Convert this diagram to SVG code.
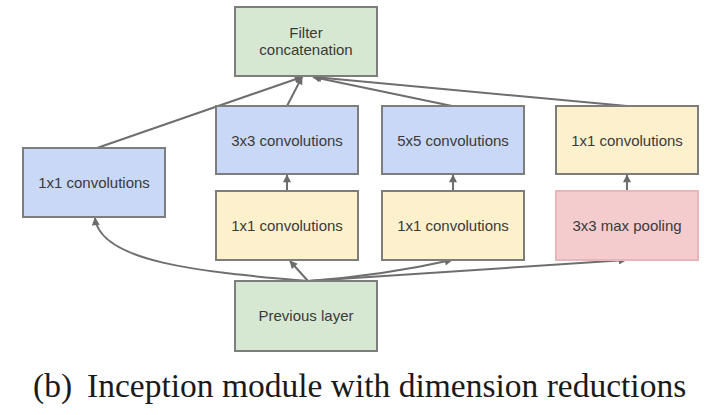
<svg xmlns="http://www.w3.org/2000/svg" width="720" height="415" viewBox="0 0 720 415">
<defs>
<marker id="arr" viewBox="0 0 10 10" refX="9" refY="5" markerWidth="9" markerHeight="8" markerUnits="userSpaceOnUse" orient="auto">
<path d="M0,0 L10,5 L0,10 Z" fill="#6b6b6b"/>
</marker>
<style>
.box{stroke:#7d7d7d;stroke-width:2}
.green{fill:#d7e8d2}
.blue{fill:#c9d8f6}
.yellow{fill:#fdf1cd}
.pink{fill:#f4ccce;stroke:#e8b5b9}
.lbl{font-family:"Liberation Sans",Arial,sans-serif;font-size:15px;fill:#3a3a3a;text-anchor:middle}
.cap{font-family:"Liberation Serif","Times New Roman",serif;font-size:33.5px;fill:#1a1a1a}
.edge{fill:none;stroke:#6e6e6e;stroke-width:2;marker-end:url(#arr)}
</style>
</defs>
<rect width="720" height="415" fill="#ffffff"/>
<g id="connectors">
<line class="edge" x1="97" y1="148" x2="302" y2="77"/>
<line class="edge" x1="287" y1="106" x2="302" y2="77"/>
<line class="edge" x1="452" y1="106" x2="313" y2="77"/>
<line class="edge" x1="627" y1="106" x2="314" y2="77"/>
<line class="edge" x1="287" y1="191" x2="287" y2="175"/>
<line class="edge" x1="453" y1="191" x2="453" y2="175"/>
<line class="edge" x1="627" y1="191" x2="627" y2="175"/>
<path class="edge" d="M308,281 C200,272 100,262 95,218"/>
<line class="edge" x1="308" y1="281" x2="290" y2="261"/>
<path class="edge" d="M308,281 Q380,276 452,260"/>
<line class="edge" x1="308" y1="281" x2="626" y2="260"/>
</g>
<g id="filter-concat">
<rect class="box green" x="235" y="7" width="142" height="69"/>
<text class="lbl" x="306" y="38">Filter</text>
<text class="lbl" x="306" y="55">concatenation</text>
</g>
<g id="conv1x1-left">
<rect class="box blue" x="23" y="148" width="142" height="69"/>
<text class="lbl" x="94" y="188">1x1 convolutions</text>
</g>
<g id="conv3x3">
<rect class="box blue" x="216" y="106" width="142" height="68"/>
<text class="lbl" x="287" y="146">3x3 convolutions</text>
</g>
<g id="conv5x5">
<rect class="box blue" x="382" y="106" width="142" height="68"/>
<text class="lbl" x="453" y="146">5x5 convolutions</text>
</g>
<g id="conv1x1-right">
<rect class="box yellow" x="556" y="106" width="142" height="68"/>
<text class="lbl" x="627" y="146">1x1 convolutions</text>
</g>
<g id="reduce3x3">
<rect class="box yellow" x="216" y="191" width="142" height="69"/>
<text class="lbl" x="287" y="231">1x1 convolutions</text>
</g>
<g id="reduce5x5">
<rect class="box yellow" x="382" y="191" width="142" height="69"/>
<text class="lbl" x="453" y="231">1x1 convolutions</text>
</g>
<g id="maxpool">
<rect class="box pink" x="556" y="191" width="142" height="69"/>
<text class="lbl" x="627" y="231">3x3 max pooling</text>
</g>
<g id="previous-layer">
<rect class="box green" x="235" y="281" width="142" height="70"/>
<text class="lbl" x="306" y="321">Previous layer</text>
</g>
<g id="caption">
<text class="cap" x="33" y="397">(b)</text>
<text class="cap" x="87" y="397">Inception module with dimension reductions</text>
</g>
</svg>
